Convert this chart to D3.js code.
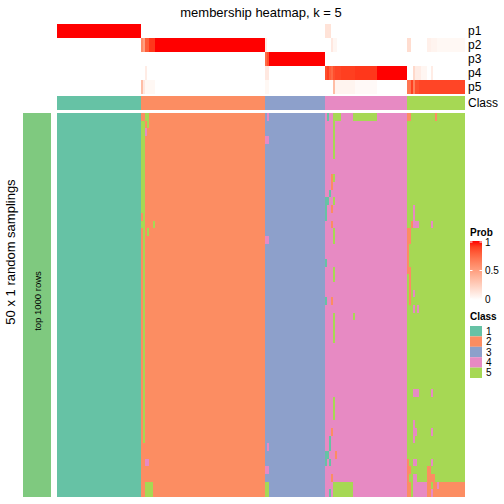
<!DOCTYPE html>
<html><head><meta charset="utf-8">
<script src="https://cdn.jsdelivr.net/npm/d3@7"></script>
<style>body{margin:0;background:#fff}svg{display:block}text{font-family:"Liberation Sans",Arial,sans-serif}</style>
</head><body><svg id="c" width="504" height="504"></svg>
<script>
// ---- data ----
const classSizes = [42, 62, 30, 41, 29];          // number of samples per consensus class
const classColors = ["#66C2A5", "#FC8D62", "#8DA0CB", "#E78AC3", "#A6D854"];
const classLabels = ["1", "2", "3", "4", "5"];
const probRows = ["p1", "p2", "p3", "p4", "p5"];
const nSamplings = 50;
const probTicks = [0, 0.5, 1];
// probability overrides: [probRow, colStart, colEnd, value]
const probOverrides = [
  [1,42,42,0.6],[1,43,43,0.5],[1,44,45,0.8],[1,46,48,0.92],
  [3,44,44,0.1],[4,42,42,0.35],[4,43,43,0.12],[4,44,48,0.04],
  [2,104,104,0.75],[2,105,105,0.85],[1,104,104,0.1],[3,104,105,0.12],[4,104,105,0.04],
  [0,134,136,0.15],[1,137,137,0.12],[1,138,139,0.05],
  [3,134,134,0.85],[3,135,135,0.9],[3,136,136,0.8],[3,137,137,0.75],[3,138,138,0.85],
  [3,139,141,0.88],[3,142,148,0.9],[3,149,159,0.92],
  [4,138,138,0.35],[4,139,148,0.06],[4,149,159,0.03],
  [4,175,176,0.7],[4,177,177,0.9],[4,178,178,0.65],[4,179,180,0.85],[4,181,203,0.88],
  [1,175,176,0.18],[1,185,186,0.08],[1,187,189,0.06],[1,190,203,0.04],
  [3,178,178,0.2],[3,179,181,0.1],[3,182,184,0.05],[3,187,187,0.1]
];
// sampling class overrides: [class, rowStart, rowEnd, colStart, colEnd]
const classOverrides = [
  [5,0,0,44,45],[5,1,1,45,45],[5,1,12,42,43],[4,2,2,44,44],[5,13,13,43,43],
  [5,14,14,42,43],[5,14,14,48,48],[5,15,15,45,45],[5,15,42,43,43],[4,45,45,44,45],[5,48,49,44,47],
  [4,0,0,105,105],[4,3,3,104,105],[4,16,16,104,105],[4,43,43,105,105],[4,46,46,104,105],[5,48,49,104,105],
  [1,0,0,135,135],[5,0,0,138,141],[5,0,0,148,159],[5,1,5,138,138],[2,8,9,137,137],[5,8,8,138,138],
  [1,10,10,136,136],[1,11,11,134,135],[5,11,11,138,138],[1,12,13,134,134],[2,12,12,137,137],
  [2,14,14,137,137],[5,15,16,138,138],[1,19,19,134,134],[5,20,21,138,138],[1,24,24,134,134],
  [2,24,24,137,137],[5,26,29,138,138],[5,26,26,148,148],[5,37,39,138,138],[2,41,41,137,137],
  [1,42,43,136,136],[1,44,44,134,135],[2,44,44,139,139],[1,45,45,134,134],[1,45,45,136,136],
  [2,47,47,137,137],[5,48,49,138,147],[1,49,49,136,136],
  [2,0,0,175,176],[2,0,0,189,189],[4,12,13,178,178],[2,14,14,177,177],[4,14,14,178,180],
  [4,14,14,187,187],[2,15,16,175,176],[2,17,20,175,175],[2,20,24,176,176],[4,23,23,178,178],
  [4,25,25,178,178],[4,25,25,180,180],[4,36,36,178,180],[4,36,36,187,187],[4,40,42,178,178],
  [4,41,41,179,179],[4,41,41,187,187],[2,45,45,175,175],[4,45,45,178,179],[4,45,45,187,187],
  [2,46,46,175,176],[2,46,46,185,186],[2,47,47,175,175],[4,47,47,178,179],[2,47,47,185,188],
  [2,48,49,175,176],[4,48,49,178,184],[2,48,49,185,186],[2,48,49,188,203],[4,48,48,190,190],
  [4,49,49,187,187]
];

// ---- derived tables ----
const colClass = [];
classSizes.forEach((n, k) => { for (let i = 0; i < n; i++) colClass.push(k + 1); });
const nCols = colClass.length;
const prob = probRows.map((_, k) => colClass.map(c => (c === k + 1 ? 1 : 0)));
probOverrides.forEach(([r, c0, c1, v]) => { for (let c = c0; c <= c1; c++) prob[r][c] = v; });
const mat = d3.range(nSamplings).map(() => colClass.slice());
classOverrides.forEach(([v, r0, r1, c0, c1]) => {
  for (let r = r0; r <= r1; r++) for (let c = c0; c <= c1; c++) mat[r][c] = v;
});

// ---- scales ----
const svg = d3.select("#c");
const x = d3.scaleBand().domain(d3.range(nCols)).range([57, 465]);
const yTop = d3.scaleBand().domain(probRows).range([24, 94]);
const y = d3.scaleBand().domain(d3.range(nSamplings)).range([113, 497]);
const probColor = d3.scaleLinear().domain([0, 1]).range(["#FFFFFF", "#FF0000"]).interpolate(d3.interpolateLab);
const classColor = d3.scaleOrdinal().domain([1,2,3,4,5]).range(classColors);

// title
svg.append("text").attr("x", 261).attr("y", 17).attr("text-anchor", "middle")
  .attr("font-size", 13).text("membership heatmap, k = 5");

// probability rows
const pcells = [];
prob.forEach((row, k) => row.forEach((v, c) => pcells.push({k, c, v})));
svg.append("g").selectAll("rect").data(pcells).join("rect")
  .attr("x", d => x(d.c)).attr("width", x.bandwidth() + 0.3)
  .attr("y", d => yTop(probRows[d.k])).attr("height", yTop.bandwidth())
  .attr("fill", d => probColor(d.v)).attr("shape-rendering", "crispEdges");

// class annotation row
svg.append("g").selectAll("rect").data(colClass).join("rect")
  .attr("x", (d, i) => x(i)).attr("width", x.bandwidth() + 0.3)
  .attr("y", 96).attr("height", 14)
  .attr("fill", d => classColor(d)).attr("shape-rendering", "crispEdges");

// row labels
svg.append("g").selectAll("text").data(probRows.concat(["Class"])).join("text")
  .attr("x", 468).attr("y", (d, i) => i < 5 ? yTop(d) + yTop.bandwidth() / 2 : 103)
  .attr("dy", "0.35em").attr("font-size", 12).text(d => d);

// main heatmap
const cells = [];
mat.forEach((row, r) => row.forEach((v, c) => cells.push({r, c, v})));
svg.append("g").selectAll("rect").data(cells).join("rect")
  .attr("x", d => x(d.c)).attr("width", x.bandwidth() + 0.3)
  .attr("y", d => y(d.r)).attr("height", y.bandwidth() + 0.3)
  .attr("fill", d => classColor(d.v)).attr("shape-rendering", "crispEdges");

// left annotation
svg.append("rect").attr("x", 23).attr("y", 113).attr("width", 28).attr("height", 384).attr("fill", "#7FC97F");
svg.append("text").attr("transform", "translate(38,301) rotate(-90)").attr("text-anchor", "middle")
  .attr("dy", "0.35em").attr("font-size", 9.5).text("top 1000 rows");
svg.append("text").attr("transform", "translate(10,252) rotate(-90)").attr("text-anchor", "middle")
  .attr("dy", "0.35em").attr("font-size", 13).text("50 x 1 random samplings");

// legend: Prob
const lg = svg.append("g");
lg.append("text").attr("x", 470).attr("y", 236).attr("font-size", 10).attr("font-weight", "bold").text("Prob");
const grad = svg.append("defs").append("linearGradient").attr("id", "pg").attr("x1", 0).attr("x2", 0).attr("y1", 1).attr("y2", 0);
d3.range(0, 1.01, 0.1).forEach(t => grad.append("stop").attr("offset", t).attr("stop-color", probColor(t)));
const ly = d3.scaleLinear().domain([0, 1]).range([299, 242]);
lg.append("rect").attr("x", 470).attr("y", 241).attr("width", 12).attr("height", 59).attr("fill", "url(#pg)");
probTicks.forEach(t => {
  lg.append("line").attr("x1", 470).attr("x2", 472.5).attr("y1", ly(t)).attr("y2", ly(t)).attr("stroke", "#fff");
  lg.append("line").attr("x1", 479.5).attr("x2", 482).attr("y1", ly(t)).attr("y2", ly(t)).attr("stroke", "#fff");
  lg.append("text").attr("x", 485).attr("y", ly(t)).attr("dy", "0.35em").attr("font-size", 10).text(t);
});
// legend: Class
lg.append("text").attr("x", 470).attr("y", 320).attr("font-size", 10).attr("font-weight", "bold").text("Class");
const ky = d3.scaleBand().domain(classLabels).range([326, 378]);
lg.selectAll("rect.k").data(classLabels).join("rect").attr("class", "k")
  .attr("x", 470).attr("y", d => ky(d)).attr("width", 12).attr("height", ky.bandwidth())
  .attr("fill", (d, i) => classColors[i]);
lg.selectAll("text.k").data(classLabels).join("text").attr("class", "k")
  .attr("x", 486).attr("y", d => ky(d) + ky.bandwidth() / 2).attr("dy", "0.35em").attr("font-size", 10).text(d => d);
</script></body></html>
